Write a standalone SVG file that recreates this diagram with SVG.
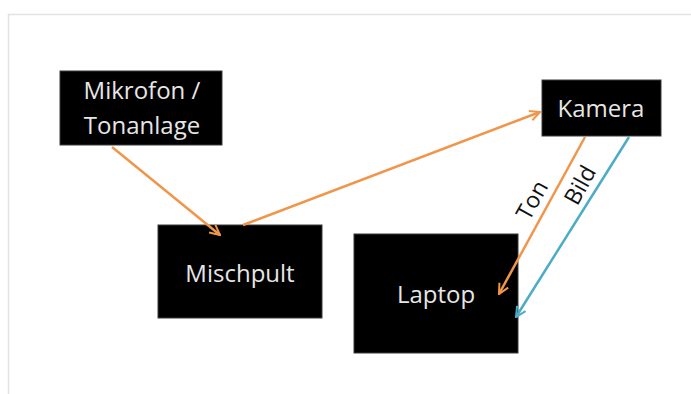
<svg xmlns="http://www.w3.org/2000/svg" width="691" height="394" viewBox="0 0 691 394">
<style>
.box{fill:#000;stroke:#3a3a3a;stroke-width:1}
.t{font-family:"Open Sans","Liberation Sans",sans-serif;font-size:24px;fill:#e6e6e6;text-anchor:middle}
.lbl{font-family:"Open Sans","Liberation Sans",sans-serif;font-size:23px;fill:#111;text-anchor:middle}
.o{stroke:#f0964a;stroke-width:2.5;fill:none}
.b{stroke:#4bacc6;stroke-width:2.5;fill:none}
</style>
<defs>
<marker id="ao" viewBox="0 0 10 10" refX="9" refY="5" markerWidth="5" markerHeight="5" orient="auto" markerUnits="strokeWidth"><path d="M1,1 L9,5 L1,9" fill="none" stroke="#f0964a" stroke-width="1.6"/></marker>
<marker id="ab" viewBox="0 0 10 10" refX="9" refY="5" markerWidth="5" markerHeight="5" orient="auto" markerUnits="strokeWidth"><path d="M1,1 L9,5 L1,9" fill="none" stroke="#4bacc6" stroke-width="1.6"/></marker>
</defs>
<path d="M8.5,394 V14.5 H691" fill="none" stroke="#e2e2e2" stroke-width="1.5"/>
<g id="mikrofon"><rect class="box" x="60" y="71" width="162" height="74"/><text class="t" x="142" y="99">Mikrofon /</text><text class="t" x="142" y="134">Tonanlage</text></g>
<g id="mischpult"><rect class="box" x="158" y="225" width="164" height="93"/><text class="t" x="240" y="282">Mischpult</text></g>
<g id="kamera"><rect class="box" x="542" y="80" width="119" height="56"/><text class="t" x="601" y="117">Kamera</text></g>
<g id="laptop"><rect class="box" x="354" y="234" width="164" height="119"/><text class="t" x="436" y="303">Laptop</text></g>
<g id="connectors">
<line class="o" x1="112" y1="147" x2="220" y2="235" marker-end="url(#ao)"/>
<line class="o" x1="243" y1="225" x2="540" y2="112" marker-end="url(#ao)"/>
<line class="o" x1="585" y1="137" x2="499" y2="294" marker-end="url(#ao)"/>
<line class="b" x1="629" y1="137" x2="516" y2="317" marker-end="url(#ab)"/>
<text class="lbl" transform="translate(539,204) rotate(-61)">Ton</text>
<text class="lbl" transform="translate(587,189) rotate(-61)">Bild</text>
</g>
</svg>
